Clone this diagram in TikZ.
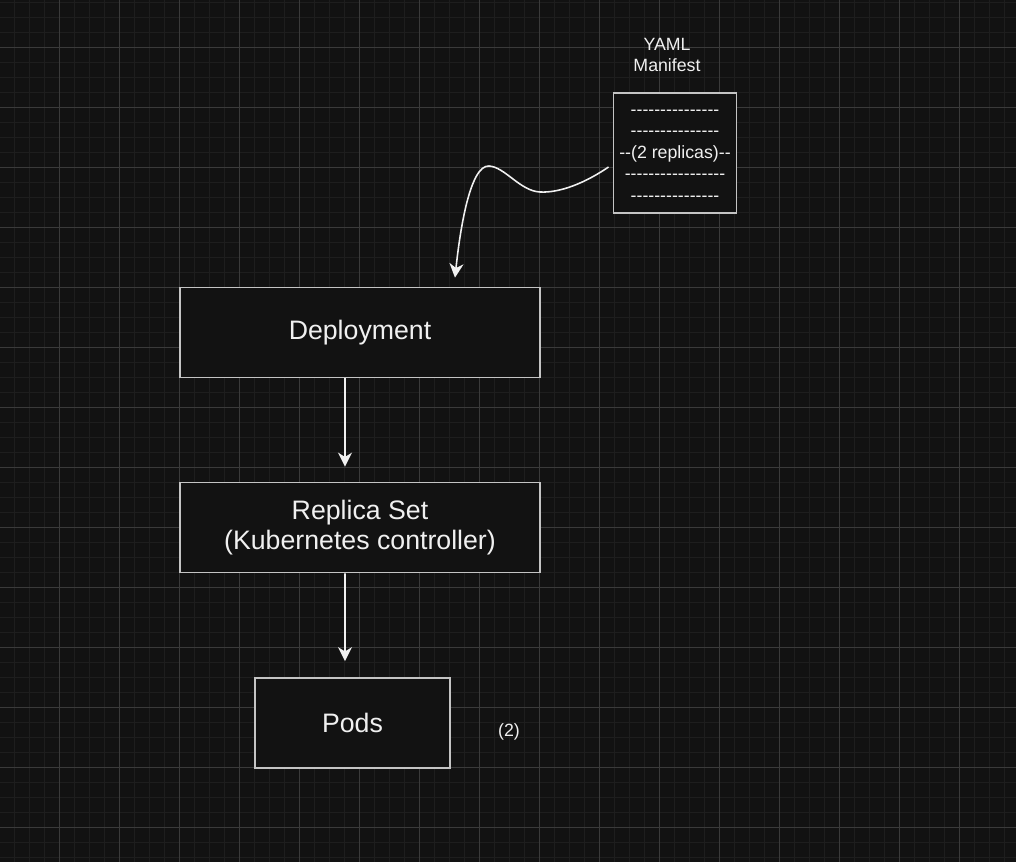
\documentclass[tikz,border=0pt]{standalone}
\usepackage{fontspec}
\newfontfamily\drawfont{Liberation Sans}
\usetikzlibrary{arrows.meta}
\definecolor{bg}{HTML}{121212}
\definecolor{minorgrid}{HTML}{1E1E1E}
\definecolor{majorgrid}{HTML}{3A3A3A}
\definecolor{edge}{HTML}{C4C4C4}
\definecolor{ink}{HTML}{F0F0F0}

\begin{document}
\begin{tikzpicture}[x=0.02cm,y=-0.02cm,
  box/.style={draw=edge,fill=bg,line width=1pt,text=ink,align=center,font=\drawfont\fontsize{15.2}{17.4}\selectfont},
  small/.style={text=ink,align=center,font=\drawfont\fontsize{10.1}{12.3}\selectfont},
  arr/.style={draw=ink,line width=0.9pt,-{Stealth[length=8pt,width=8pt,inset=2.5pt]}}]
\useasboundingbox (0,0) rectangle (1016,862);
\fill[bg] (0,0) rectangle (1016,862);
% grid
\foreach \i in {0,...,67} \draw[minorgrid,line width=0.9pt] (14.3+15*\i,0) -- (14.3+15*\i,862);
\foreach \j in {0,...,57} \draw[minorgrid,line width=0.9pt] (0,2.3+15*\j) -- (1016,2.3+15*\j);
\foreach \i in {0,...,15} \draw[majorgrid,line width=0.6pt] (59.3+60*\i,0) -- (59.3+60*\i,862);
\foreach \j in {0,...,13} \draw[majorgrid,line width=0.6pt] (0,47.3+60*\j) -- (1016,47.3+60*\j);

\node[box,minimum width=7.2cm,minimum height=1.8cm] (dep) at (360,332.5) {Deployment};
\node[box,minimum width=7.2cm,minimum height=1.8cm] (rs) at (360,527.5) {Replica Set\\(Kubernetes controller)};
\node[box,minimum width=3.9cm,minimum height=1.8cm] (pods) at (352.5,723) {Pods};
\node[small] (count) at (509,732) {(2)};
\node[box,small,minimum width=2.4cm,minimum height=2.4cm] (yaml) at (675,153)
  {\rule{0pt}{6pt}---------------\\---------------\\--(2 replicas)--\\-----------------\\---------------};
\node[small] (title) at (667,55) {YAML\\Manifest};

\coordinate (tip) at ([xshift=1.9cm,yshift=0.18cm]dep.north);
\draw[arr] ([xshift=-0.08cm,yshift=-0.28cm]yaml.west) .. controls (585,183) and (560,193) .. (540,192)
  .. controls (520,191) and (505,167) .. (489,166) .. controls (470,165) and (460,230) .. (tip);
\draw[arr] ([xshift=-0.3cm]dep.south) -- ([xshift=-0.3cm,yshift=0.3cm]rs.north);
\draw[arr] ([xshift=-0.3cm]rs.south) -- ([xshift=-0.15cm,yshift=0.32cm]pods.north);
\end{tikzpicture}
\end{document}
